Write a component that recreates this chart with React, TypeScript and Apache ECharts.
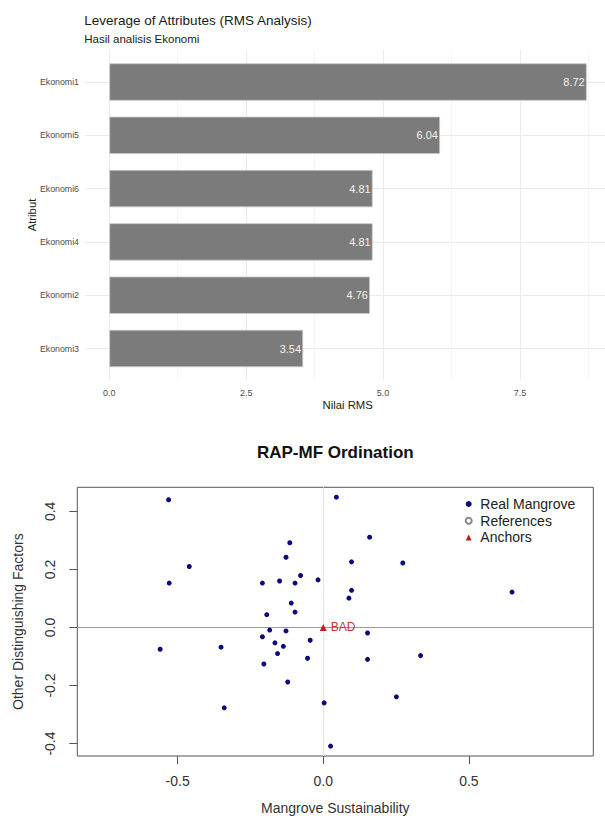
import React, { useEffect, useRef } from "react";
import * as echarts from "echarts";

// ---- Top chart data (RMS leverage) ----
const barCategories = ["Ekonomi1", "Ekonomi5", "Ekonomi6", "Ekonomi4", "Ekonomi2", "Ekonomi3"];
const barValues = [8.72, 6.04, 4.81, 4.81, 4.76, 3.54];

// ---- Bottom chart data (RAP-MF ordination) ----
const realX = [
  -0.531, 0.045, 0.159, -0.115, -0.128, 0.097, -0.46, -0.529, -0.209, -0.15,
  -0.097, -0.078, -0.018, 0.097, 0.088, -0.11, -0.097, -0.194, -0.184, -0.128,
  -0.209, -0.166, -0.137, -0.045, -0.56, -0.351, -0.157, -0.054, 0.152, 0.152,
  -0.204, -0.122, 0.003, -0.34, 0.648, 0.334, 0.251, 0.273, 0.025,
];
const realY = [
  0.44, 0.449, 0.311, 0.292, 0.242, 0.226, 0.21, 0.153, 0.153, 0.16,
  0.153, 0.179, 0.164, 0.128, 0.101, 0.084, 0.053, 0.044, -0.009, -0.012,
  -0.032, -0.053, -0.065, -0.044, -0.075, -0.068, -0.09, -0.106, -0.019, -0.11,
  -0.126, -0.188, -0.26, -0.277, 0.122, -0.097, -0.239, 0.222, -0.409,
];
const anchorNames = ["BAD"];
const anchorX = [0];
const anchorY = [0];
const scatterXTicks = [-0.5, 0, 0.5];
const scatterYTicks = [-0.4, -0.2, 0, 0.2, 0.4];

const FONT = '"Liberation Sans", Arial, Helvetica, sans-serif';

export default function App() {
  const ref = useRef<HTMLDivElement>(null);

  useEffect(() => {
    if (!ref.current) return;
    const chart = echarts.init(ref.current, undefined, { renderer: "svg" });
    const fmt1 = (v: number) => v.toFixed(1);

    const option: any = {
      animation: false,
      backgroundColor: "#ffffff",
      textStyle: { fontFamily: FONT },
      grid: [
        { left: 109.3, width: 547.5, top: 55.35, height: 319.8, outerBoundsMode: "none", containLabel: false },
        { left: 109.3, width: 547.5, top: 50, height: 330, outerBoundsMode: "none", containLabel: false },
        { left: 85.4, width: 525.2, top: 82, height: 266.3, outerBoundsMode: "none", containLabel: false },
        {
          left: 77.3, right: 11.7, top: 487.3, height: 268.7, outerBoundsMode: "none", containLabel: false,
          show: true, borderColor: "#555555", borderWidth: 1, backgroundColor: "transparent",
        },
      ],
      xAxis: [
        { gridIndex: 0, type: "value", min: 0, max: 10, show: false },
        {
          gridIndex: 1, type: "value", min: 0, max: 10, interval: 2.5,
          axisLine: { show: false, onZero: false }, axisTick: { show: false },
          axisLabel: { fontSize: 9, color: "#4d4d4d", margin: 8, formatter: fmt1, showMaxLabel: false },
          splitLine: { show: true, lineStyle: { color: "#ebebeb", width: 1 } },
          minorTick: { show: false, splitNumber: 2 },
          minorSplitLine: { show: true, lineStyle: { color: "#f1f1f1", width: 0.7 } },
        },
        { gridIndex: 2, type: "value", min: 0, max: 1, show: false },
        {
          gridIndex: 3, type: "value", min: -0.8445, max: 0.927,
          axisLine: { show: false, onZero: false }, splitLine: { show: false },
          axisTick: { show: true, customValues: scatterXTicks, length: 8, lineStyle: { color: "#555555" } },
          axisLabel: { customValues: scatterXTicks, fontSize: 14, color: "#333333", margin: 18, formatter: fmt1 },
          name: "Mangrove Sustainability", nameLocation: "middle", nameGap: 45,
          nameTextStyle: { fontSize: 14, color: "#333333" },
        },
      ],
      yAxis: [
        {
          gridIndex: 0, type: "category", data: barCategories, inverse: true,
          axisLine: { show: false, onZero: false }, axisTick: { show: false },
          axisLabel: { fontSize: 8.8, color: "#4d4d4d", margin: 30.3 },
          splitLine: { show: false },
        },
        { gridIndex: 1, type: "value", min: 0, max: 1, show: false },
        {
          gridIndex: 2, type: "category", data: barCategories, inverse: true, boundaryGap: false,
          axisLine: { show: false, onZero: false }, axisTick: { show: false }, axisLabel: { show: false },
          splitLine: { show: true, interval: 0, lineStyle: { color: "#ebebeb", width: 1 } },
        },
        {
          gridIndex: 3, type: "value", min: -0.443, max: 0.483,
          axisLine: { show: false, onZero: false }, splitLine: { show: false },
          axisTick: { show: true, customValues: scatterYTicks, length: 8, lineStyle: { color: "#555555" } },
          axisLabel: { customValues: scatterYTicks, rotate: 90, fontSize: 14, color: "#333333", margin: 20, formatter: fmt1 },
          name: "Other Distinguishing Factors", nameLocation: "middle", nameGap: 52,
          nameTextStyle: { fontSize: 14, color: "#333333" },
        },
      ],
      legend: {
        orient: "vertical", left: 464.7, top: 497, padding: 0, itemGap: 2.7,
        itemWidth: 6, itemHeight: 6, selectedMode: false,
        textStyle: { fontSize: 14, color: "#222222", fontFamily: FONT, padding: [0, 0, 0, 3.6] },
        data: [
          { name: "Real Mangrove" },
          { name: "References", itemStyle: { borderWidth: 0.8 } },
          { name: "Anchors" },
        ],
      },
      series: [
        {
          type: "bar", xAxisIndex: 0, yAxisIndex: 0, data: barValues, barWidth: "70%",
          itemStyle: { color: "#7b7b7b", borderColor: "#c8c8c8", borderWidth: 0.8 },
          label: {
            show: true, position: "insideRight", distance: 2, color: "#f2f2f2", fontSize: 11,
            formatter: (p: any) => Number(p.value).toFixed(2),
          },
          z: 2,
        },
        {
          name: "Real Mangrove", type: "scatter", xAxisIndex: 3, yAxisIndex: 3,
          data: realX.map((x, i) => [x, realY[i]]),
          symbol: "circle", symbolSize: 5, itemStyle: { color: "#0a0a80", opacity: 1 }, z: 3,
          markLine: {
            z: 1, silent: true, symbol: ["none", "none"], label: { show: false },
            data: [
              { yAxis: 0, lineStyle: { color: "#9a9a9a", width: 1.2, type: "solid", opacity: 1 } },
              { xAxis: 0, lineStyle: { color: "#e2e2e2", width: 1, type: "solid", opacity: 1 } },
            ],
          },
        },
        {
          name: "References", type: "scatter", xAxisIndex: 3, yAxisIndex: 3, data: [],
          symbol: "emptyCircle", symbolSize: 5, itemStyle: { color: "#8a8a8a", opacity: 1 },
        },
        {
          name: "Anchors", type: "scatter", xAxisIndex: 3, yAxisIndex: 3,
          data: anchorNames.map((n, i) => ({ name: n, value: [anchorX[i], anchorY[i]] })),
          symbol: "triangle", symbolSize: 7, itemStyle: { color: "#c41a1a", opacity: 1 }, z: 4,
          label: { show: true, position: "right", distance: 4, formatter: "{b}", color: "#cc3333", fontSize: 12 },
        },
      ],
      graphic: [
        {
          type: "text", x: 84.3, y: 20,
          style: { text: "Leverage of Attributes (RMS Analysis)", fill: "#1a1a1a", fontSize: 13.5, fontFamily: FONT, align: "left", verticalAlign: "middle" },
        },
        {
          type: "text", x: 84.3, y: 39,
          style: { text: "Hasil analisis Ekonomi", fill: "#1a1a1a", fontSize: 11.5, fontFamily: FONT, align: "left", verticalAlign: "middle" },
        },
        {
          type: "text", x: 31.7, y: 215, rotation: Math.PI / 2,
          style: { text: "Atribut", fill: "#1a1a1a", fontSize: 11.3, fontFamily: FONT, align: "center", verticalAlign: "middle" },
        },
        {
          type: "text", x: 347.7, y: 405,
          style: { text: "Nilai RMS", fill: "#1a1a1a", fontSize: 11.3, fontFamily: FONT, align: "center", verticalAlign: "middle" },
        },
        {
          type: "text", x: 335.3, y: 452.7,
          style: { text: "RAP-MF Ordination", fill: "#111111", fontSize: 17, fontWeight: "bold", fontFamily: FONT, align: "center", verticalAlign: "middle" },
        },
      ],
    };

    chart.setOption(option);
    return () => chart.dispose();
  }, []);

  return (
    <div
      ref={ref}
      style={{ position: "absolute", left: 0, top: 0, width: 605, height: 826, overflow: "hidden", background: "#fff" }}
    />
  );
}
